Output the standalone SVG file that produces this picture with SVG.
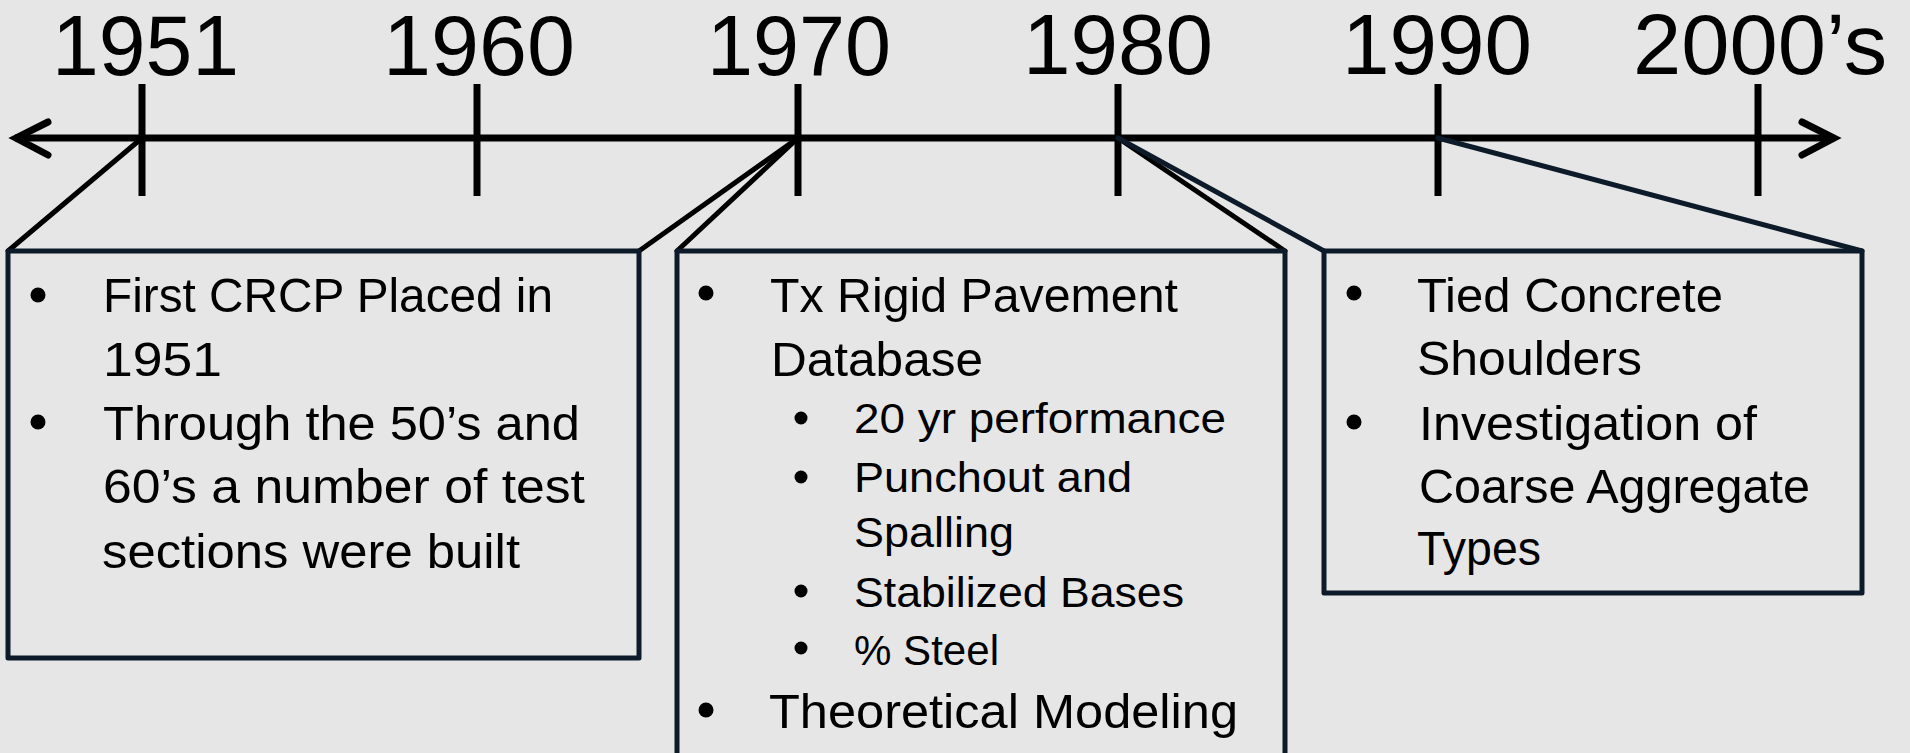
<svg xmlns="http://www.w3.org/2000/svg" width="1910" height="753" viewBox="0 0 1910 753">
  <style>
    .axis { stroke: #000; stroke-width: 7; fill: none; stroke-linecap: butt; }
    .tick { stroke: #000; stroke-width: 7; }
    .head { stroke: #000; stroke-width: 7; fill: none; stroke-linecap: round; stroke-linejoin: miter; }
    .year { font-family: "Liberation Sans Narrow", "Liberation Sans", Arial, sans-serif; font-size: 85px; fill: #000; }
    .box { fill: none; stroke: #0c1a29; stroke-width: 5; stroke-linejoin: round; }
    .link { stroke: #000; stroke-width: 5; stroke-linecap: round; }
    .link-dark { stroke: #0c1a29; stroke-width: 5; stroke-linecap: round; }
    .body { font-family: "Liberation Sans Narrow", "Liberation Sans", Arial, sans-serif; font-size: 49px; fill: #000; }
    .sub { font-family: "Liberation Sans Narrow", "Liberation Sans", Arial, sans-serif; font-size: 43px; fill: #000; }
    .dot { fill: #000; }
  </style>

  <rect x="0" y="0" width="1910" height="753" fill="#e6e6e6"/>

  <!-- timeline axis with arrowheads at both ends -->
  <g id="timeline">
    <line class="axis" x1="15" y1="138" x2="1834" y2="138"/>
    <polyline class="head" points="48,122 16,138 48,155"/>
    <polyline class="head" points="1802,122 1834,138 1802,155"/>
    <line class="tick" x1="142" y1="84" x2="142" y2="196"/>
    <line class="tick" x1="477" y1="84" x2="477" y2="196"/>
    <line class="tick" x1="798" y1="84" x2="798" y2="196"/>
    <line class="tick" x1="1118" y1="84" x2="1118" y2="196"/>
    <line class="tick" x1="1438" y1="84" x2="1438" y2="196"/>
    <line class="tick" x1="1758" y1="84" x2="1758" y2="196"/>
  </g>

  <!-- year labels -->
  <g id="years">
    <text class="year" x="52" y="75" textLength="187" lengthAdjust="spacingAndGlyphs">1951</text>
    <text class="year" x="383" y="75" textLength="192" lengthAdjust="spacingAndGlyphs">1960</text>
    <text class="year" x="707" y="75" textLength="184" lengthAdjust="spacingAndGlyphs">1970</text>
    <text class="year" x="1023" y="74" textLength="190" lengthAdjust="spacingAndGlyphs">1980</text>
    <text class="year" x="1342" y="74" textLength="190" lengthAdjust="spacingAndGlyphs">1990</text>
    <text class="year" x="1633" y="74" textLength="254" lengthAdjust="spacingAndGlyphs">2000’s</text>
  </g>

  <!-- callout connectors from the ticks to the boxes -->
  <g id="connectors">
    <line class="link" x1="142" y1="138" x2="8" y2="251"/>
    <line class="link" x1="798" y1="138" x2="639" y2="251"/>
    <line class="link" x1="798" y1="138" x2="677" y2="251"/>
    <line class="link" x1="1118" y1="138" x2="1285" y2="251"/>
    <line class="link-dark" x1="1118" y1="138" x2="1324" y2="251"/>
    <line class="link-dark" x1="1438" y1="138" x2="1862" y2="251"/>
  </g>

  <!-- 1950s / 60s box -->
  <g id="box-1951">
    <rect class="box" x="8" y="251" width="631" height="407"/>
    <circle class="dot" cx="38" cy="295" r="7.5"/>
    <text class="body" x="103" y="312" textLength="450" lengthAdjust="spacingAndGlyphs">First CRCP Placed in</text>
    <text class="body" x="103" y="376" textLength="119" lengthAdjust="spacingAndGlyphs">1951</text>
    <circle class="dot" cx="38" cy="422" r="7.5"/>
    <text class="body" x="103" y="440" textLength="477" lengthAdjust="spacingAndGlyphs">Through the 50’s and</text>
    <text class="body" x="103" y="503" textLength="482" lengthAdjust="spacingAndGlyphs">60’s a number of test</text>
    <text class="body" x="102" y="568" textLength="418" lengthAdjust="spacingAndGlyphs">sections were built</text>
  </g>

  <!-- 1970s box -->
  <g id="box-1970">
    <rect class="box" x="677" y="251" width="608" height="530"/>
    <circle class="dot" cx="706" cy="293" r="7.5"/>
    <text class="body" x="770" y="312" textLength="408" lengthAdjust="spacingAndGlyphs">Tx Rigid Pavement</text>
    <text class="body" x="771" y="376" textLength="212" lengthAdjust="spacingAndGlyphs">Database</text>
    <circle class="dot" cx="801" cy="418" r="6.5"/>
    <text class="sub" x="854" y="433" textLength="372" lengthAdjust="spacingAndGlyphs">20 yr performance</text>
    <circle class="dot" cx="801" cy="477" r="6.5"/>
    <text class="sub" x="854" y="492" textLength="278" lengthAdjust="spacingAndGlyphs">Punchout and</text>
    <text class="sub" x="854" y="547" textLength="160" lengthAdjust="spacingAndGlyphs">Spalling</text>
    <circle class="dot" cx="801" cy="591" r="6.5"/>
    <text class="sub" x="854" y="607" textLength="330" lengthAdjust="spacingAndGlyphs">Stabilized Bases</text>
    <circle class="dot" cx="801" cy="648" r="6.5"/>
    <text class="sub" x="854" y="665" textLength="145" lengthAdjust="spacingAndGlyphs">% Steel</text>
    <circle class="dot" cx="706" cy="710" r="7.5"/>
    <text class="body" x="769" y="728" textLength="469" lengthAdjust="spacingAndGlyphs">Theoretical Modeling</text>
  </g>

  <!-- 1980s / 90s box -->
  <g id="box-1990">
    <rect class="box" x="1324" y="251" width="538" height="342"/>
    <circle class="dot" cx="1354" cy="293" r="7.5"/>
    <text class="body" x="1417" y="312" textLength="306" lengthAdjust="spacingAndGlyphs">Tied Concrete</text>
    <text class="body" x="1417" y="375" textLength="225" lengthAdjust="spacingAndGlyphs">Shoulders</text>
    <circle class="dot" cx="1354" cy="422" r="7.5"/>
    <text class="body" x="1419" y="440" textLength="338" lengthAdjust="spacingAndGlyphs">Investigation of</text>
    <text class="body" x="1419" y="503" textLength="391" lengthAdjust="spacingAndGlyphs">Coarse Aggregate</text>
    <text class="body" x="1417" y="565" textLength="124" lengthAdjust="spacingAndGlyphs">Types</text>
  </g>
</svg>
